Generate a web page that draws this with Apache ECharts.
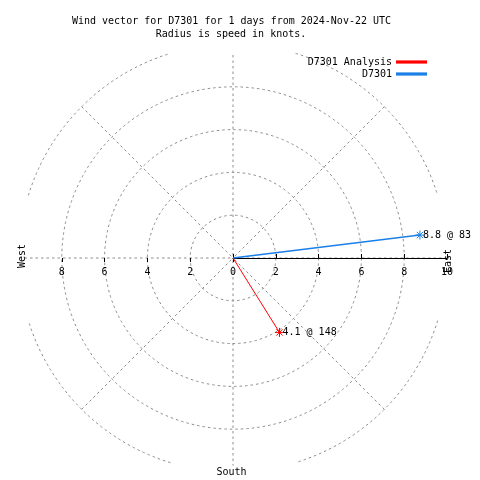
<!DOCTYPE html>
<html><head><meta charset="utf-8">
<script src="https://cdn.jsdelivr.net/npm/echarts@6/dist/echarts.min.js"></script>
<style>html,body{margin:0;padding:0;background:#fff}#c{width:480px;height:480px}</style>
</head><body><div id="c"></div>
<script>
// ---- data ----
const seriesNames = ['D7301 Analysis', 'D7301'];
const speeds = [4.1, 8.8];          // knots (radius)
const directions = [148, 83];       // degrees clockwise from north
const radiusMin = 0, radiusMax = 10, radiusInterval = 2;
const westMax = 8;
const titleLines = ['Wind vector for D7301 for 1 days from 2024-Nov-22 UTC', 'Radius is speed in knots.'];
const compassEast = 'East', compassWest = 'West', compassSouth = 'South';

// ---- style ----
const seriesColors = ['#ff0000', '#1a7fe6'];
const CX = 233, CY = 258, R = 214;
const FONT = 'DejaVu Sans Mono';
const GRID = '#8c8c8c';
const DASH = [2.5, 3];
const STAR = 'path://M4,0L4,8M0,4L8,4M1.2,1.2L6.8,6.8M6.8,1.2L1.2,6.8';
const outerArcs = [[17, 73], [107, 163], [197, 253], [287, 343]];
const T = 'rgba(0,0,0,0)';

const chart = echarts.init(document.getElementById('c'), null, {renderer: 'canvas'});

const hiddenAngle = (i, start) => ({
  polarIndex: i, type: 'value', min: 0, max: 360, startAngle: start, clockwise: true,
  axisLine: {show: false}, axisTick: {show: false}, axisLabel: {show: false}, splitLine: {show: false}
});
const lblStyle = {color: '#000', fontFamily: FONT, fontSize: 10};
const txt = (text, x, y, rot) => ({type: 'text', x, y, rotation: rot || 0, z: 100,
  style: {text, align: 'center', verticalAlign: 'middle', font: '10px ' + FONT, fill: '#000'}});

const option = {
  animation: false,
  backgroundColor: '#fff',
  polar: [
    {center: [CX, CY], radius: R},
    {center: [CX, CY], radius: R},
    {center: [CX, CY], radius: R},
    {center: [CX, CY], radius: R * westMax / radiusMax},
    {center: [CX, CY], radius: R * westMax / radiusMax}
  ],
  angleAxis: [
    {polarIndex: 0, type: 'value', min: 0, max: 360, interval: 45, startAngle: 90, clockwise: true,
     axisLine: {show: false}, axisTick: {show: false}, axisLabel: {show: false},
     splitLine: {show: true, lineStyle: {color: GRID, type: DASH, width: 1}}},
    hiddenAngle(1, 0), hiddenAngle(2, 0), hiddenAngle(3, 180), hiddenAngle(4, 180)
  ],
  radiusAxis: [
    {polarIndex: 0, type: 'value', min: radiusMin, max: radiusMax, interval: radiusInterval,
     axisLine: {show: false}, axisTick: {show: false}, axisLabel: {show: false},
     splitLine: {show: true, lineStyle: {color: [T, GRID, GRID, GRID, GRID, T], type: DASH, width: 1}}},
    {polarIndex: 1, type: 'value', min: radiusMin, max: radiusMax, interval: radiusInterval,
     axisLine: {show: true, lineStyle: {color: '#000', width: 1}},
     axisTick: {show: true, length: 4, lineStyle: {color: '#000'}},
     axisLabel: Object.assign({show: true, margin: -9, verticalAlign: 'top', showMinLabel: true, showMaxLabel: true}, lblStyle),
     splitLine: {show: false}},
    {polarIndex: 2, type: 'value', min: radiusMin, max: radiusMax, interval: radiusInterval,
     axisLine: {show: false}, axisTick: {show: true, inside: true, length: 4, lineStyle: {color: '#000'}},
     axisLabel: {show: false}, splitLine: {show: false}},
    {polarIndex: 3, type: 'value', min: radiusMin, max: westMax, interval: radiusInterval,
     axisLine: {show: false}, axisTick: {show: true, length: 4, lineStyle: {color: '#000'}},
     axisLabel: Object.assign({show: true, margin: 9, verticalAlign: 'top', showMinLabel: false}, lblStyle),
     splitLine: {show: false}},
    {polarIndex: 4, type: 'value', min: radiusMin, max: westMax, interval: radiusInterval,
     axisLine: {show: false}, axisTick: {show: true, inside: true, length: 4, lineStyle: {color: '#000'}},
     axisLabel: {show: false}, splitLine: {show: false}}
  ],
  legend: seriesNames.map((n, i) => ({
    data: [n], orient: 'vertical', align: 'right', right: 53, top: 57 + i * 12,
    itemWidth: 29, itemHeight: 1.2, icon: 'rect', padding: 0, selectedMode: false,
    textStyle: {color: '#000', fontFamily: FONT, fontSize: 10}
  })),
  series: seriesNames.map((name, i) => ({
    name, type: 'line', coordinateSystem: 'polar', polarIndex: 0, z: 5,
    data: [
      {value: [0, directions[i]], symbol: 'none'},
      {value: [speeds[i], directions[i]], symbol: STAR, symbolSize: 9,
       label: Object.assign({show: true, position: 'right', distance: -2,
         formatter: speeds[i] + ' @ ' + directions[i]}, lblStyle)}
    ],
    lineStyle: {color: seriesColors[i], width: i === 1 ? 1.5 : 1},
    itemStyle: {color: seriesColors[i], borderColor: seriesColors[i], borderWidth: 1}
  })),
  graphic: [
    // plot-area clipping bands (top and bottom), as in the original
    {type: 'rect', silent: true, z: 50, shape: {x: 0, y: 40, width: 480, height: 12.5}, style: {fill: '#fff'}},
    {type: 'rect', silent: true, z: 50, shape: {x: 0, y: 465.5, width: 480, height: 14.5}, style: {fill: '#fff'}},
    txt(titleLines[0], 231.5, 21),
    txt(titleLines[1], 231, 34),
    txt(compassEast, 448, 261, Math.PI / 2),
    txt(compassWest, 22, 256, Math.PI / 2),
    txt(compassSouth, 231.5, 472)
  ].concat(outerArcs.map(a => ({
    type: 'arc', silent: true,
    shape: {cx: CX, cy: CY, r: R, startAngle: (a[0] - 90) * Math.PI / 180, endAngle: (a[1] - 90) * Math.PI / 180, clockwise: true},
    style: {stroke: GRID, fill: null, lineWidth: 1, lineDash: DASH}
  })))
};
chart.setOption(option);
</script></body></html>
